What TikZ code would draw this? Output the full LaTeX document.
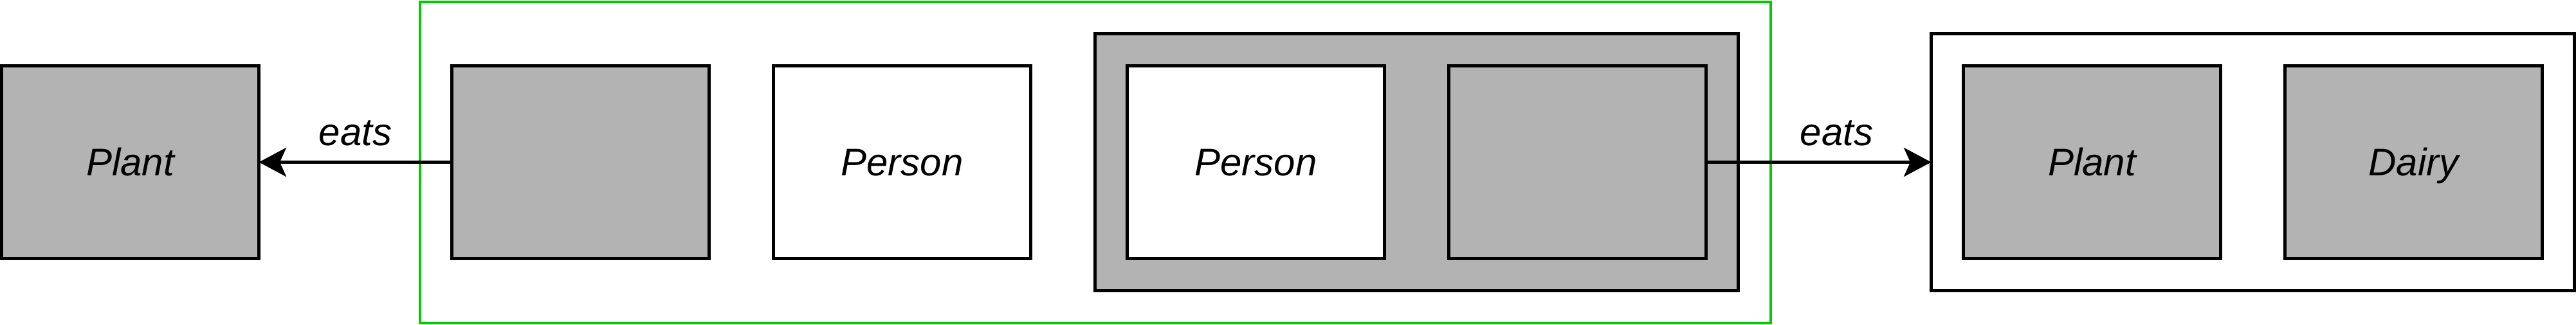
\documentclass[tikz,border=0pt]{standalone}
\usepackage{fontspec}
\setmainfont{Liberation Sans}
\usetikzlibrary{arrows.meta}
\definecolor{boxgrey}{HTML}{B3B3B3}
\definecolor{groupgreen}{HTML}{00CC00}

\tikzset{
  item/.style={draw, line width=2pt, minimum width=160pt, minimum height=120pt,
    inner sep=0pt, outer sep=0pt, text height=17pt, text depth=0pt,
    font=\fontsize{24}{28}\selectfont\itshape},
  greyitem/.style={item, fill=boxgrey},
  container/.style={draw, line width=2pt, minimum width=400pt, minimum height=160pt,
    inner sep=0pt, outer sep=0pt},
  eatsarrow/.style={line width=2pt, -{Stealth[length=17pt,width=18pt,inset=4pt]}},
  eatslabel/.style={anchor=base, yshift=10.6pt, font=\fontsize{24}{28}\selectfont\itshape}
}

\begin{document}
\begin{tikzpicture}[x=1pt,y=1pt]
\useasboundingbox (-1,1) rectangle (1601,-201);
% draw the green group
\node[draw=groupgreen, line width=1.6pt, minimum width=840pt, minimum height=200pt,
  inner sep=0pt, outer sep=0pt] (group) at (680,-100) {};
% draw left plant
\node[greyitem] (plantL) at (80,-100) {Plant};
% draw the boxes inside the group
\node[greyitem] (blank) at (360,-100) {};
\node[item] (person) at (560,-100) {Person};
\node[container, fill=boxgrey] (pair) at (880,-100) {};
\node[item, fill=white] (personIn) at (780,-100) {Person};
\node[greyitem] (blankIn) at (980,-100) {};
% draw right container
\node[container] (food) at (1400,-100) {};
\node[greyitem] (plantR) at (1300,-100) {Plant};
\node[greyitem] (dairy) at (1500,-100) {Dairy};

% draw the arrows
\draw[eatsarrow] (blank.west) -- (plantL.east) node[midway, eatslabel] {eats};
\draw[eatsarrow] (blankIn.east) -- (food.west) node[pos=0.58, eatslabel] {eats};
\end{tikzpicture}
\end{document}
